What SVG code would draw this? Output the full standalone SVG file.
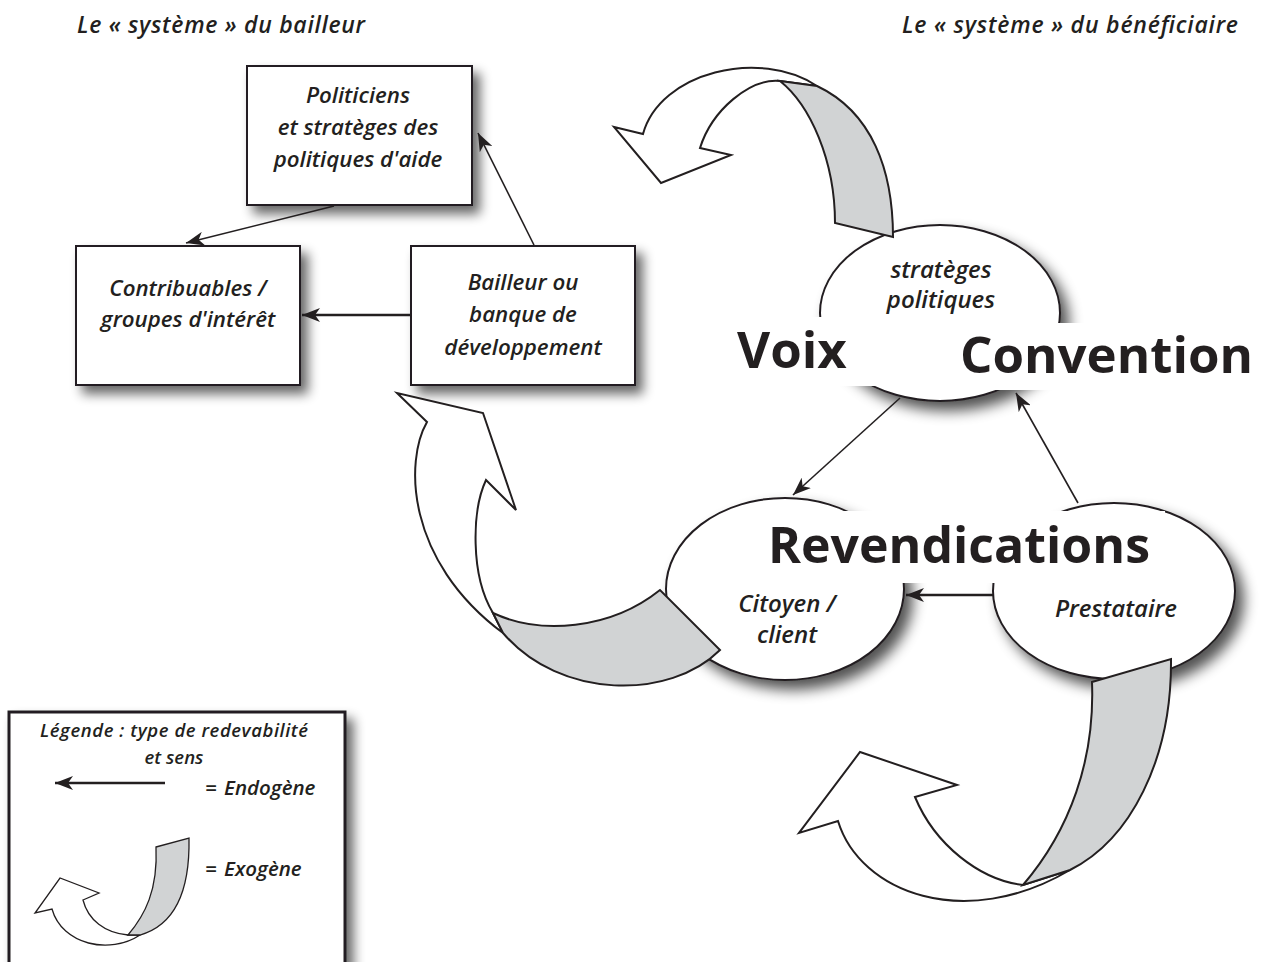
<svg xmlns="http://www.w3.org/2000/svg" width="1262" height="962" viewBox="0 0 1262 962">
<style>
.bg{fill:#fff}
.box{fill:#fff;stroke:#231f20;stroke-width:2}
.ell{fill:#fff;stroke:#231f20;stroke-width:2}
.lab{font-family:"Open Sans","Noto Sans",sans-serif;font-style:italic;font-weight:600;font-size:22.3px;fill:#231f20;text-anchor:middle}
.elab{font-family:"Open Sans","Noto Sans",sans-serif;font-style:italic;font-weight:600;font-size:24px;fill:#231f20;text-anchor:middle}
.ttl{font-family:"Open Sans","Noto Sans",sans-serif;font-style:italic;font-weight:600;font-size:23px;fill:#231f20}
.big{font-family:"Open Sans","Noto Sans",sans-serif;font-weight:700;font-size:51px;fill:#231f20}
.leg{font-family:"Open Sans","Noto Sans",sans-serif;font-style:italic;font-weight:600;font-size:18.5px;fill:#231f20}
.leg2{font-family:"Open Sans","Noto Sans",sans-serif;font-style:italic;font-weight:600;font-size:20.5px;fill:#231f20;word-spacing:2px}
.con{fill:none;stroke:#231f20;stroke-width:1.6}
.con2{fill:none;stroke:#231f20;stroke-width:2.6}
.rw{fill:#fff;stroke:#231f20;stroke-width:2;stroke-linejoin:miter}
.rg{fill:#d1d3d4;stroke:#231f20;stroke-width:2;stroke-linejoin:miter}
.band{fill:#fff}
</style>
<defs>
<filter id="sh" x="-20%" y="-20%" width="150%" height="150%">
<feGaussianBlur in="SourceAlpha" stdDeviation="6"/>
<feOffset dx="7" dy="8"/>
<feComponentTransfer><feFuncA type="linear" slope="0.6"/></feComponentTransfer>
<feMerge><feMergeNode/><feMergeNode in="SourceGraphic"/></feMerge>
</filter>
<filter id="she" x="-25%" y="-25%" width="160%" height="160%">
<feGaussianBlur in="SourceAlpha" stdDeviation="7"/>
<feOffset dx="8" dy="9"/>
<feComponentTransfer><feFuncA type="linear" slope="0.68"/></feComponentTransfer>
<feMerge><feMergeNode/><feMergeNode in="SourceGraphic"/></feMerge>
</filter>
<marker id="ah" markerUnits="userSpaceOnUse" markerWidth="20" markerHeight="14" refX="18" refY="7" orient="auto">
<path d="M0,0 L18,7 L0,14 L5,7 Z" fill="#231f20"/>
</marker>
</defs>
<rect class="bg" x="0" y="0" width="1262" height="962"/>

<g id="titles">
<text class="ttl" x="77" y="33" textLength="288" lengthAdjust="spacing">Le « système » du bailleur</text>
<text class="ttl" x="902" y="33" textLength="336" lengthAdjust="spacing">Le « système » du bénéficiaire</text>
</g>

<g id="politiciens">
<rect class="box" x="247" y="66" width="225" height="139" filter="url(#sh)"/>
<text class="lab" x="358" y="103">Politiciens</text>
<text class="lab" x="358" y="135">et stratèges des</text>
<text class="lab" x="358" y="167">politiques d'aide</text>
</g>
<g id="contribuables">
<rect class="box" x="76" y="246" width="224" height="139" filter="url(#sh)"/>
<text class="lab" x="188" y="296">Contribuables /</text>
<text class="lab" x="188" y="327">groupes d'intérêt</text>
</g>
<g id="bailleur">
<rect class="box" x="411" y="246" width="224" height="139" filter="url(#sh)"/>
<text class="lab" x="523" y="290">Bailleur ou</text>
<text class="lab" x="523" y="322">banque de</text>
<text class="lab" x="523" y="355">développement</text>
</g>

<g id="strateges">
<ellipse class="ell" cx="940" cy="313" rx="120" ry="88" filter="url(#she)"/>
<text class="elab" x="941" y="278">stratèges</text>
<text class="elab" x="941" y="308">politiques</text>
</g>
<g id="citoyen">
<ellipse class="ell" cx="785" cy="589" rx="119" ry="91" filter="url(#she)"/>
<text class="elab" x="787" y="612">Citoyen /</text>
<text class="elab" x="787" y="643">client</text>
</g>
<g id="prestataire">
<ellipse class="ell" cx="1114" cy="591" rx="121" ry="88" filter="url(#she)"/>
<text class="elab" x="1116" y="617">Prestataire</text>
</g>

<g id="labels">
<rect class="band" x="735" y="317" width="170" height="69"/>
<rect class="band" x="905" y="323" width="348" height="67"/>
<rect class="band" x="758" y="511" width="407" height="72"/>
<text class="big" x="737" y="368">Voix</text>
<text class="big" x="960" y="373">Convention</text>
<text class="big" x="768" y="563" textLength="382" lengthAdjust="spacingAndGlyphs">Revendications</text>
</g>

<g id="connectors">
<line class="con" x1="334" y1="206" x2="186" y2="243" marker-end="url(#ah)"/>
<line class="con" x1="534" y1="245" x2="478" y2="133" marker-end="url(#ah)"/>
<line class="con2" x1="411" y1="315" x2="302" y2="315" marker-end="url(#ah)"/>
<line class="con" x1="900" y1="398" x2="793" y2="495" marker-end="url(#ah)"/>
<line class="con" x1="1078" y1="503" x2="1016" y2="393" marker-end="url(#ah)"/>
<line class="con2" x1="993" y1="595" x2="906" y2="595" marker-end="url(#ah)"/>
</g>

<g id="exo-top">
<path class="rw" d="M700,148 L731,155 L661,183 L614,127 L643,134 C660,72 760,48 817,86 L780,81 C750,78 712,110 700,148 Z"/>
<path class="rg" d="M780,81 C810,105 835,160 835,223 L893,237 C893,170 872,112 817,86 Z"/>
</g>
<g id="exo-left">
<path class="rw" d="M427,422 L397,393 L483,413 L516,510 L486,480 C472,510 470,575 493,613 L503,633 C405,560 405,460 427,422 Z"/>
<path class="rg" d="M493,613 C540,635 610,630 660,590 L720,650 C670,700 560,700 503,633 Z"/>
</g>
<g id="exo-bottom">
<path class="rw" d="M915,797 L957,785 L860,752 L799,833 L838,821 C860,893 965,932 1070,870 L1023,885 C980,880 935,845 915,797 Z"/>
<path class="rg" d="M1092,682 L1171,659 C1172,760 1130,840 1070,870 L1023,885 C1070,830 1095,760 1092,682 Z"/>
</g>

<g id="legend">
<rect x="9" y="712" width="336" height="270" fill="#fff" stroke="#231f20" stroke-width="3" filter="url(#sh)"/>
<text class="leg" x="40" y="737" textLength="268" lengthAdjust="spacing">Légende : type de redevabilité</text>
<text class="leg" x="174" y="764" text-anchor="middle">et sens</text>
<line class="con2" x1="165" y1="783" x2="55" y2="783" marker-end="url(#ah)"/>
<text class="leg2" x="205" y="795">= Endogène</text>
<text class="leg2" x="205" y="876">= Exogène</text>
<path class="rw" style="stroke-width:1.3" d="M83,900 L99,893 L60,878 L35,913 L52,909 C62,945 110,955 140,935 L128,935 C105,933 88,920 83,900 Z"/>
<path class="rg" style="stroke-width:1.3" d="M156,847 L189,838 C190,890 175,925 140,935 L128,935 C145,915 158,890 156,847 Z"/>
</g>
</svg>
